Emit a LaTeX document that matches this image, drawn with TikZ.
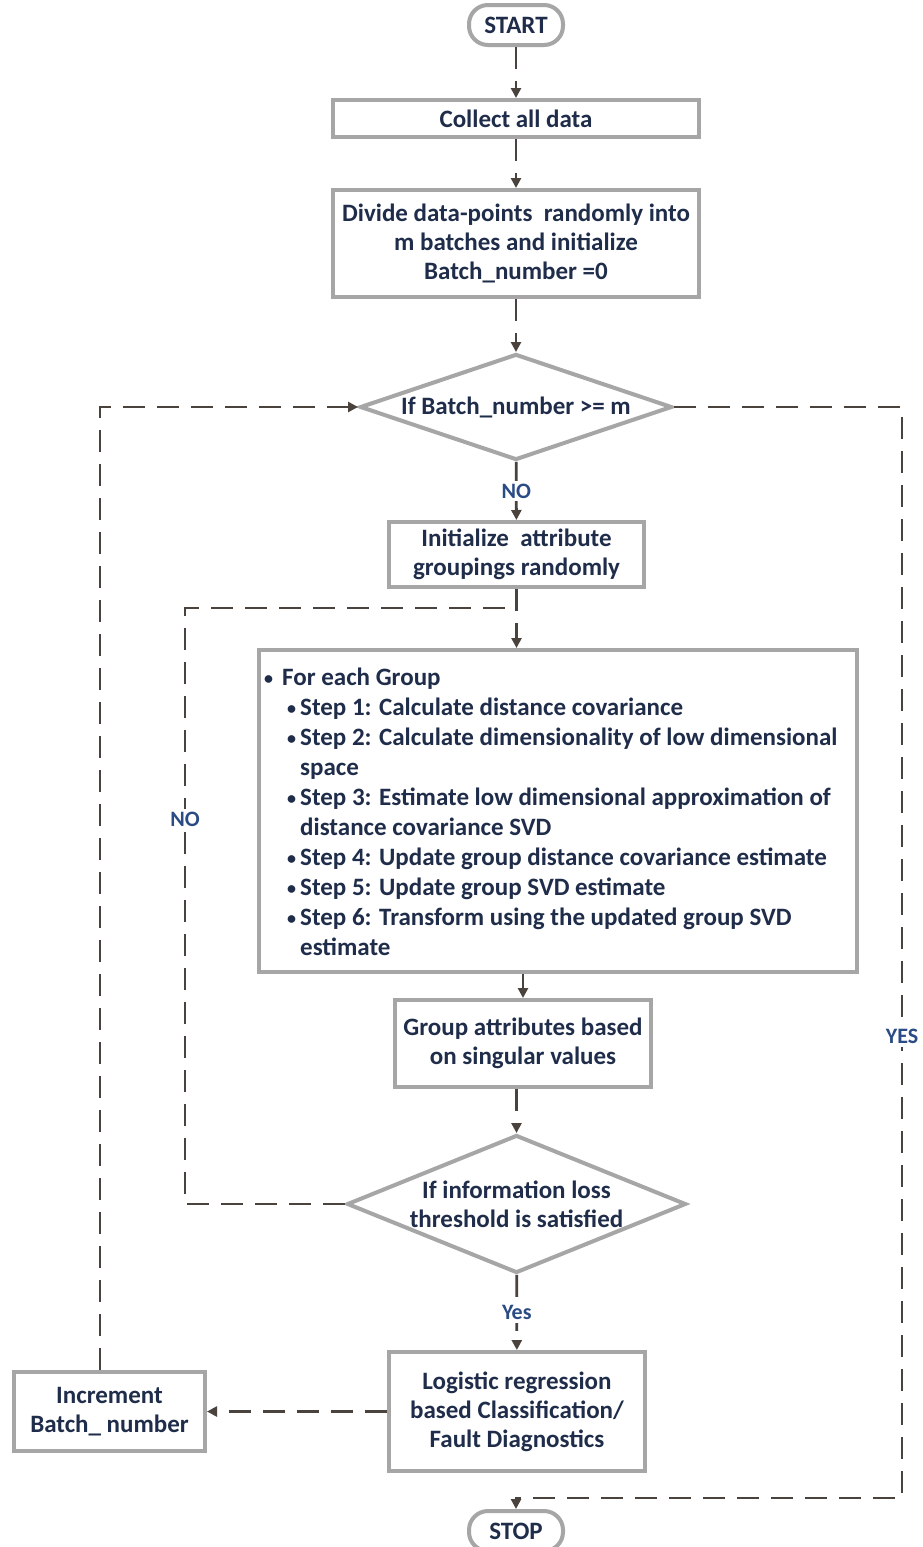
\documentclass[tikz,border=0pt]{standalone}
\usepackage{fontspec}
\setmainfont{Carlito}
\usetikzlibrary{arrows.meta,shapes.geometric}
\definecolor{boxgray}{HTML}{A6A6A6}
\definecolor{ink}{HTML}{1F2D4A}
\definecolor{wire}{HTML}{4A433D}
\definecolor{tag}{HTML}{2A4B85}
\newcommand\dotmark{\raisebox{1.5pt}{\fontsize{18}{18}\selectfont\textbullet}}
\newcommand\stepline[1]{\hspace*{23pt}\makebox[13pt][l]{\dotmark}#1}
\newcommand\contline[1]{\hspace*{36pt}#1}
\begin{document}
\begin{tikzpicture}[x=1pt,y=-1pt,
  base/.style={draw=boxgray, line width=4pt, fill=white, text=ink,
    font=\fontsize{25}{29}\selectfont\bfseries, align=center, inner sep=0pt},
  box/.style={base, rectangle},
  term/.style={base, rectangle, rounded corners=19pt},
  decision/.style={base, diamond},
  flow/.style={draw=wire, line width=2.8pt, dash pattern=on 22pt off 12pt,
    -{Triangle[length=10pt,width=10pt]}},
  plainflow/.style={draw=wire, line width=2.8pt, dash pattern=on 22pt off 12pt},
  tagtext/.style={text=tag, font=\fontsize{22}{25}\selectfont\bfseries, fill=white, inner sep=3pt}]

\useasboundingbox[fill=white] (0,0) rectangle (923,1547);

% boxes
\node[term, minimum width=94pt, minimum height=40pt] (start) at (516,25) {START};
\node[box, minimum width=366pt, minimum height=37pt] (collect) at (516,118.5) {Collect all data};
\node[box, minimum width=366pt, minimum height=107pt] (divide) at (516,243.5)
  {Divide data-points\ \ randomly into\\ m batches and initialize\\ Batch\_number =0};
\node[decision, minimum width=312pt, minimum height=106pt, aspect=2.94] (dec1) at (516,407)
  {If Batch\_number >= m};
\node[box, minimum width=255pt, minimum height=65pt] (init) at (516.5,554.5)
  {Initialize\ \ attribute\\ groupings randomly};
\node[box, minimum width=598pt, minimum height=322pt] (steps) at (558,811) {};
\node[anchor=north west, text=ink, align=left, inner sep=0pt,
  font=\fontsize{25}{30}\selectfont\bfseries] (stepstext) at (264,668)
  {\makebox[18pt][l]{\dotmark}For each Group\\
   \stepline{Step 1: Calculate distance covariance}\\
   \stepline{Step 2: Calculate dimensionality of low dimensional}\\
   \contline{space}\\
   \stepline{Step 3: Estimate low dimensional approximation of}\\
   \contline{distance covariance SVD}\\
   \stepline{Step 4: Update group distance covariance estimate}\\
   \stepline{Step 5: Update group SVD estimate}\\
   \stepline{Step 6: Transform using the updated group SVD}\\
   \contline{estimate}};
\node[box, minimum width=256pt, minimum height=87pt] (group) at (523,1043.5)
  {Group attributes based\\ on singular values};
\node[decision, minimum width=339pt, minimum height=138pt, aspect=2.46] (dec2) at (516.5,1204)
  {If information loss\\ threshold is satisfied};
\node[box, minimum width=256pt, minimum height=119pt] (logit) at (517,1411.5)
  {Logistic regression\\ based Classification/\\ Fault Diagnostics};
\node[box, minimum width=191pt, minimum height=79pt] (incr) at (109.5,1411.5)
  {Increment\\ Batch\_ number};
\node[term, minimum width=94pt, minimum height=40pt] (stop) at (516,1531) {STOP};

% loop corners
\coordinate (noturn) at (185,1204);
\coordinate (notop) at (185,608);
\coordinate (merge) at (516,608);
\coordinate (yesturn) at (902,407);
\coordinate (yesbottom) at (902,1498);
\coordinate (stopin) at (516,1498);
\coordinate (batchtop) at (100,407);

% main flow
\draw[flow] (start) -- (collect);
\draw[flow] (collect) -- (divide);
\draw[flow] (divide) -- (dec1);
\draw[flow] (dec1) -- node[tagtext] {NO} (init);
\draw[flow] (init.south) -- (init.south |- steps.north);
\draw[flow] (steps.south -| group.north) -- (group.north);
\draw[flow] (group.south -| dec2.north) -- (dec2.north);
\draw[flow] (dec2) -- node[tagtext] {Yes} (logit);
\draw[flow] (logit) -- (incr);

% loops
\draw[plainflow] (dec2.west) -- (noturn) -- node[tagtext, pos=0.646] {NO} (notop) -- (merge);
\draw[flow] (dec1.east) -- (yesturn) -- node[tagtext, pos=0.577] {YES} (yesbottom) -- (stopin) -- (stop.north);
\draw[flow] (incr.north -| batchtop) -- (batchtop) -- (dec1.west);
\end{tikzpicture}
\end{document}
